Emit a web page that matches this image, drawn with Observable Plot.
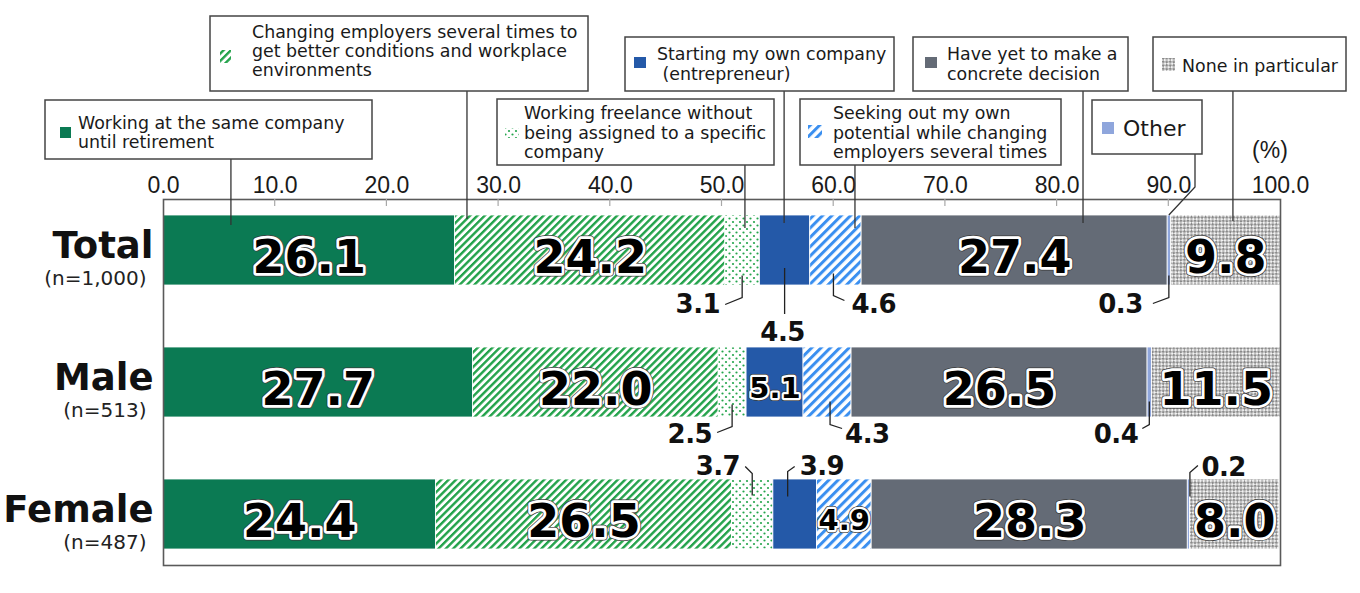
<!DOCTYPE html>
<html>
<head>
<meta charset="utf-8">
<script src="https://cdn.jsdelivr.net/npm/d3@7"></script>
<script src="https://cdn.jsdelivr.net/npm/@observablehq/plot@0.6"></script>
<style>
  body { margin: 0; background: #fff; }
  #chart { width: 1360px; height: 593px; }
</style>
</head>
<body>
<div id="chart"></div>
<script>
// ---------------- data ----------------
const groups = ["Total", "Male", "Female"];
const sampleSizes = ["(n=1,000)", "(n=513)", "(n=487)"];
const categories = [
  "Working at the same company until retirement",
  "Changing employers several times to get better conditions and workplace environments",
  "Working freelance without being assigned to a specific company",
  "Starting my own company (entrepreneur)",
  "Seeking out my own potential while changing employers several times",
  "Have yet to make a concrete decision",
  "Other",
  "None in particular"
];
const legendLines = [
  ["Working at the same company", "until retirement"],
  ["Changing employers several times to", "get better conditions and workplace", "environments"],
  ["Working freelance without", "being assigned to a specific", "company"],
  ["Starting my own company", " (entrepreneur)"],
  ["Seeking out my own", "potential while changing", "employers several times"],
  ["Have yet to make a", "concrete decision"],
  ["Other"],
  ["None in particular"]
];
const totalValues  = [26.1, 24.2, 3.1, 4.5, 4.6, 27.4, 0.3, 9.8];
const maleValues   = [27.7, 22.0, 2.5, 5.1, 4.3, 26.5, 0.4, 11.5];
const femaleValues = [24.4, 26.5, 3.7, 3.9, 4.9, 28.3, 0.2, 8.0];
const xTicks = [0, 10, 20, 30, 40, 50, 60, 70, 80, 90, 100];
const unitLabel = "(%)";

// ---------------- styles ----------------
const fills = ["#0b7a53", "url(#pHatchGreen)", "url(#pDots)", "#2459a8",
               "url(#pHatchBlue)", "#646b76", "#8fa6dc", "url(#pChecker)"];

// ---------------- table ----------------
const valuesByGroup = [totalValues, maleValues, femaleValues];
const rows = [];
groups.forEach((g, gi) => {
  let acc = 0;
  valuesByGroup[gi].forEach((v, ci) => {
    rows.push({group: g, gi, cat: categories[ci], ci, value: v,
               x1: acc, x2: acc + v, mid: acc + v / 2, label: v.toFixed(1)});
    acc += v;
  });
});
const bigRows = rows.filter(d => d.value >= 8);
const smallRows = rows.filter(d => d.value >= 4.9 && d.value < 8);
const outRows = rows.filter(d => d.value < 4.9);
const groupRows = groups.map((g, i) => ({group: g, n: sampleSizes[i]}));

const FONT = "DejaVu Sans";
const TICKFONT = "Liberation Sans, Arial, sans-serif";

const bigText = (stroke, sw) => Plot.text(bigRows, {
  x: "mid", y: "group", text: "label", dy: 7.5, fontSize: 46, fontWeight: "bold",
  fontFamily: FONT, letterSpacing: -5.5, fill: "black", stroke, strokeWidth: sw,
  strokeLinejoin: "round", paintOrder: "stroke"});
const smallText = (stroke, sw) => Plot.text(smallRows, {
  x: "mid", y: "group", text: "label", dy: 6.5, fontSize: 29, fontWeight: "bold",
  fontFamily: FONT, letterSpacing: -3, fill: "black", stroke, strokeWidth: sw,
  strokeLinejoin: "round", paintOrder: "stroke"});

const plot = Plot.plot({
  width: 1360,
  height: 593,
  marginTop: 199,
  marginBottom: 28,
  marginLeft: 163,
  marginRight: 80,
  style: {fontFamily: FONT, background: "white", overflow: "visible"},
  x: {domain: [0, 100], axis: null},
  y: {domain: groups, paddingInner: 0.466, paddingOuter: 0.109, axis: null},
  color: {type: "ordinal", domain: categories, range: fills},
  marks: [
    Plot.barX(rows, {x1: "x1", x2: "x2", y: "group", fill: "cat",
                     stroke: "white", strokeWidth: 0.8}),
    Plot.frame({stroke: "#5a5a5a", strokeWidth: 1.6}),
    Plot.axisX({anchor: "top", ticks: xTicks, tickFormat: d => d.toFixed(1),
                tickSize: 0, tickPadding: 7, fontSize: 23, fontFamily: TICKFONT,
                fill: "#1a1a1a"}),
    // group labels
    Plot.text(groupRows, {x: () => 0, y: "group", text: "group", textAnchor: "end",
                          dx: -10, dy: -4, fontSize: 37, fontWeight: "bold",
                          fontFamily: FONT, fill: "#111"}),
    Plot.text(groupRows, {x: () => 0, y: "group", text: "n", textAnchor: "end",
                          dx: -17, dy: 28, fontSize: 20, fontFamily: FONT, fill: "#222"}),
    // inside labels (dark rim + white halo)
    bigText("#3a3a3a", 7), bigText("white", 5.5),
    smallText("#3a3a3a", 5.8), smallText("white", 4.4)
  ]
});
document.getElementById("chart").appendChild(plot);

// ---------------- patterns ----------------
const svg = d3.select(plot);
const defs = svg.insert("defs", ":first-child");
function hatch(id, color, size, w) {
  const p = defs.append("pattern").attr("id", id).attr("patternUnits", "userSpaceOnUse")
    .attr("width", size).attr("height", size).attr("patternTransform", "rotate(45)");
  p.append("rect").attr("width", size).attr("height", size).attr("fill", "white");
  p.append("rect").attr("width", w).attr("height", size).attr("fill", color);
}
hatch("pHatchGreen", "#22a24a", 5.2, 2.4);
hatch("pHatchBlue", "#3a8ff0", 6.6, 3.0);
{
  const p = defs.append("pattern").attr("id", "pDots").attr("patternUnits", "userSpaceOnUse")
    .attr("width", 7).attr("height", 7);
  p.append("rect").attr("width", 7).attr("height", 7).attr("fill", "white");
  p.append("circle").attr("cx", 1.5).attr("cy", 1.5).attr("r", 1.1).attr("fill", "#24a54c");
  p.append("circle").attr("cx", 5).attr("cy", 5).attr("r", 1.1).attr("fill", "#24a54c");
}
{
  const p = defs.append("pattern").attr("id", "pChecker").attr("patternUnits", "userSpaceOnUse")
    .attr("width", 5).attr("height", 5).attr("patternTransform", "rotate(45)");
  p.append("rect").attr("width", 5).attr("height", 5).attr("fill", "#f2f2f2");
  p.append("rect").attr("width", 2.5).attr("height", 2.5).attr("fill", "#8a8a8a");
  p.append("rect").attr("x", 2.5).attr("y", 2.5).attr("width", 2.5).attr("height", 2.5).attr("fill", "#8a8a8a");
}

// ---------------- annotations ----------------
const xs = plot.scale("x"), ys = plot.scale("y");
const X = v => xs.apply(v);
const bw = ys.bandwidth;
const YC = g => ys.apply(g) + bw / 2;
const ann = svg.append("g").attr("text-anchor", "start");

// inner tick marks
xTicks.slice(1, -1).forEach(t => {
  ann.append("line").attr("x1", X(t)).attr("x2", X(t)).attr("y1", 199).attr("y2", 206)
    .attr("stroke", "#a8a8a8").attr("stroke-width", 1.2);
});
ann.append("text").attr("x", X(100) - 10).attr("y", 158).attr("text-anchor", "middle")
  .attr("font-family", TICKFONT).attr("font-size", 23).attr("fill", "#1a1a1a").text(unitLabel);

// legend callout boxes (layout)
const boxes = [
  {x: 45,   y: 100, w: 327, h: 59, tx: 78,   ty: 129, lh: 18.5, sw: [60, 127, 11, 11], frac: 0.233, depth: 10},
  {x: 210,  y: 16,  w: 378, h: 75, tx: 252,  ty: 38,  lh: 19,   sw: [220, 50, 11, 13], frac: 0.046, depth: 4},
  {x: 497,  y: 99,  w: 277, h: 66, tx: 524,  ty: 119, lh: 19.5, sw: [505, 128, 14, 10], frac: 0.58, depth: 13},
  {x: 625,  y: 37,  w: 269, h: 54, tx: 657,  ty: 60,  lh: 19.5, sw: [634, 57, 12, 11], frac: 0.49, depth: 8},
  {x: 800,  y: 99,  w: 261, h: 66, tx: 833,  ty: 119, lh: 19.5, sw: [808, 125, 14, 13], frac: 0.88, depth: 13},
  {x: 913,  y: 37,  w: 215, h: 54, tx: 947,  ty: 60,  lh: 19.5, sw: [925, 57, 12, 11], frac: 0.725, depth: 8},
  {x: 1092, y: 100, w: 110, h: 54, tx: 1123, ty: 136, lh: 20,   sw: [1102, 122, 12, 12], frac: 0.5, depth: 0, fs: 22, bend: 1195},
  {x: 1153, y: 37,  w: 193, h: 54, tx: 1182, ty: 72,  lh: 19,   sw: [1162, 58, 13, 13], frac: 0.57, depth: 6}
];
const barTop = ys.apply("Total");
boxes.forEach((b, ci) => {
  const r = rows.find(d => d.gi === 0 && d.ci === ci);
  const lx = X(r.x1 + b.frac * r.value);
  if (b.bend) {
    ann.append("polyline").attr("points",
      [[b.bend, b.y + b.h], [b.bend, 187], [lx, barTop]].map(p => p.join(",")).join(" "))
      .attr("fill", "none").attr("stroke", "#333").attr("stroke-width", 1.3);
  } else {
    ann.append("line").attr("x1", lx).attr("x2", lx).attr("y1", b.y + b.h)
      .attr("y2", barTop + b.depth).attr("stroke", "#333").attr("stroke-width", 1.3);
  }
  ann.append("rect").attr("x", b.x).attr("y", b.y).attr("width", b.w).attr("height", b.h)
    .attr("fill", "white").attr("stroke", "#444").attr("stroke-width", 1.5);
  ann.append("rect").attr("x", b.sw[0]).attr("y", b.sw[1]).attr("width", b.sw[2]).attr("height", b.sw[3])
    .attr("fill", fills[ci]);
  legendLines[ci].forEach((line, li) => {
    ann.append("text").attr("x", b.tx).attr("y", b.ty + li * b.lh)
      .attr("text-anchor", "start")
      .attr("font-family", FONT).attr("font-size", b.fs || 17.4).attr("fill", "#1a1a1a")
      .style("white-space", "pre").text(line);
  });
});

// outside value labels with leaders (offsets from segment centre / band centre)
const outLayout = {
  "0-2": {pts: [[0, 25.5], [0, 47.5], [-17, 54.5]], anchor: "end", dx: -22, dy: 62.5},
  "0-3": {pts: [[0, 18], [0, 64]], anchor: "middle", dx: -2, dy: 91},
  "0-4": {pts: [[-2, 23.5], [-2, 45.5], [9, 50.5]], anchor: "start", dx: 16, dy: 62.5},
  "0-6": {pts: [[0, 25.5], [0, 47.5], [-16, 53.5]], anchor: "end", dx: -26, dy: 62.5},
  "1-2": {pts: [[0, 22.5], [0, 44.5], [-15, 50.5]], anchor: "end", dx: -20, dy: 60.5},
  "1-4": {pts: [[3, 19.5], [3, 42.5], [15, 46.5]], anchor: "start", dx: 18, dy: 60.5},
  "1-6": {pts: [[0, 19.5], [0, 42.5], [-7, 46.5]], anchor: "end", dx: -11, dy: 61},
  "2-2": {pts: [[0, -18.5], [0, -40.5], [-7, -47.5]], anchor: "end", dx: -12, dy: -39.5},
  "2-3": {pts: [[-7, -17.5], [-7, -42.5], [0, -47.5]], anchor: "start", dx: 5, dy: -39.5},
  "2-6": {pts: [[1.5, -17.5], [1.5, -41.5], [9.5, -48.5]], anchor: "start", dx: 13, dy: -38.5}
};
outRows.forEach(d => {
  const L = outLayout[d.gi + "-" + d.ci];
  if (!L) return;
  const cx = X(d.mid), cy = YC(d.group);
  ann.append("polyline").attr("points", L.pts.map(p => (cx + p[0]) + "," + (cy + p[1])).join(" "))
    .attr("fill", "none").attr("stroke", "#222").attr("stroke-width", 1.3);
  ann.append("text").attr("x", cx + L.dx).attr("y", cy + L.dy).attr("text-anchor", L.anchor)
    .attr("font-family", FONT).attr("font-weight", "bold").attr("font-size", 26)
    .attr("letter-spacing", -0.5).attr("fill", "#111").text(d.label);
});
</script>
</body>
</html>
